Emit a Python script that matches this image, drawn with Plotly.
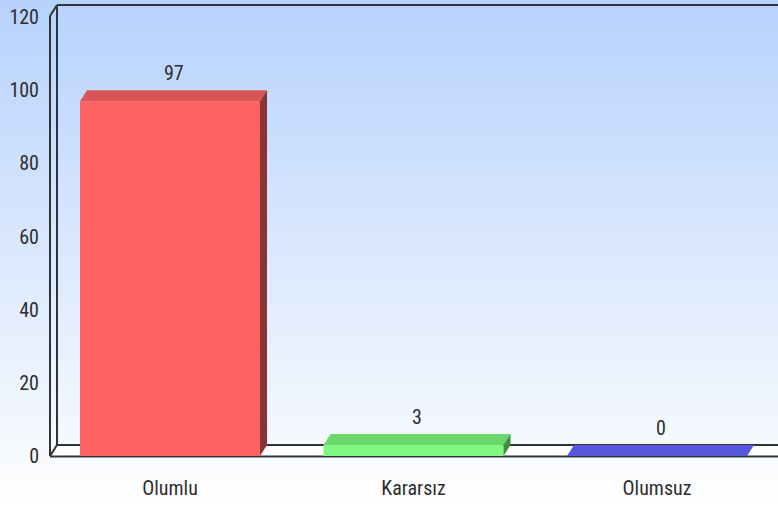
import plotly.graph_objects as go

categories = ["Olumlu", "Kararsız", "Olumsuz"]
values = [97, 3, 0]
front_colors = ["#ff6262", "#80f880", "#5e5ef2"]
top_colors = ["#d95656", "#6bd86b", "#5656da"]
side_colors = ["#883535", "#3e8c3e", "#34348a"]
y_ticks = [0, 20, 40, 60, 80, 100, 120]

W, H = 778, 508
L, T, B = 50, 4, 52          # plot area: x 50..778, y 4..456
px_per_cat = 243.5
x_lo = -120 / px_per_cat
x_hi = x_lo + (W - L) / px_per_cat
px_per_unit = 439 / 120
y_hi = (H - B - T) / px_per_unit
bar_w = 180 / px_per_cat
dx = 7 / px_per_cat          # depth offset in data units
dy = 11 / px_per_unit

FONT = "Liberation Sans Narrow, Arial Narrow, Roboto Condensed, Roboto, sans-serif"
TXT = "#2e2e2e"


def px_x(p):
    return (p - L) / (W - L)


def px_y(p):
    return (H - B - p) / (H - B - T)


fig = go.Figure()

# front faces
fig.add_trace(go.Bar(
    x=list(range(len(categories))), y=values, width=bar_w,
    marker=dict(color=front_colors, line_width=0), hoverinfo="skip",
))

# top and side faces for the 3D look
for i, v in enumerate(values):
    x0, x1 = i - bar_w / 2, i + bar_w / 2
    fig.add_trace(go.Scatter(
        x=[x0, x0 + dx, x1 + dx, x1, x0], y=[v, v + dy, v + dy, v, v],
        fill="toself", fillcolor=top_colors[i], mode="lines", line_width=0,
        hoverinfo="skip",
    ))
    if v > 0:
        fig.add_trace(go.Scatter(
            x=[x1, x1 + dx, x1 + dx, x1, x1], y=[0, dy, v + dy, v, 0],
            fill="toself", fillcolor=side_colors[i], mode="lines", line_width=0,
            hoverinfo="skip",
        ))
    fig.add_annotation(
        x=i + dx / 2, y=v + dy, text=str(v), showarrow=False,
        yanchor="bottom", yshift=3, font=dict(family=FONT, size=20, color=TXT),
    )

# gradient background in thin bands
shapes = []
n = 127
for k in range(n):
    t = k / (n - 1)
    r = int(183 + (255 - 183) * t)
    g = int(211 + (255 - 211) * t)
    b = int(253 + (255 - 253) * t)
    shapes.append(dict(
        type="rect", xref="paper", yref="paper", layer="below",
        x0=px_x(0), x1=1, y0=px_y(k * 4 + 4.5), y1=px_y(k * 4),
        fillcolor=f"rgb({r},{g},{b})", line_width=0,
    ))

# floor strip
shapes.append(dict(
    type="path", xref="paper", yref="paper", layer="below",
    path=f"M {px_x(50)} {px_y(456)} L {px_x(57)} {px_y(445)} L 1 {px_y(445)} L 1 {px_y(456)} Z",
    fillcolor="white", line_width=0,
))

frame = dict(color="#2f3438", width=2)
for (xa, ya, xb, yb) in [
    (50, 456, 50, 16),
    (50, 16, 57, 5),
    (57, 5, 778, 5),
    (57, 5, 57, 445),
    (57, 445, 778, 445),
    (50, 456, 57, 445),
    (50, 456.5, 778, 456.5),
]:
    shapes.append(dict(
        type="line", xref="paper", yref="paper", layer="below",
        x0=px_x(xa), y0=px_y(ya), x1=px_x(xb), y1=px_y(yb), line=frame,
    ))

fig.update_layout(
    width=W, height=H,
    margin=dict(l=L, r=0, t=T, b=B, pad=0),
    paper_bgcolor="white", plot_bgcolor="rgba(0,0,0,0)",
    showlegend=False, shapes=shapes,
    font=dict(family=FONT, size=20, color=TXT),
)
fig.update_xaxes(
    range=[x_lo, x_hi], tickvals=list(range(len(categories))), ticktext=categories,
    showgrid=False, zeroline=False, showline=False, ticks="", ticklabelstandoff=18,
    fixedrange=True,
)
fig.update_yaxes(
    range=[0, y_hi], tickvals=y_ticks, showgrid=False, zeroline=False,
    showline=False, ticks="", ticklabelstandoff=10, fixedrange=True,
)

# drop the default page margin so the figure fills the window exactly
fig.write_html(
    "out.html",
    config={"displayModeBar": False},
    post_script="document.body.style.margin='0';",
)
